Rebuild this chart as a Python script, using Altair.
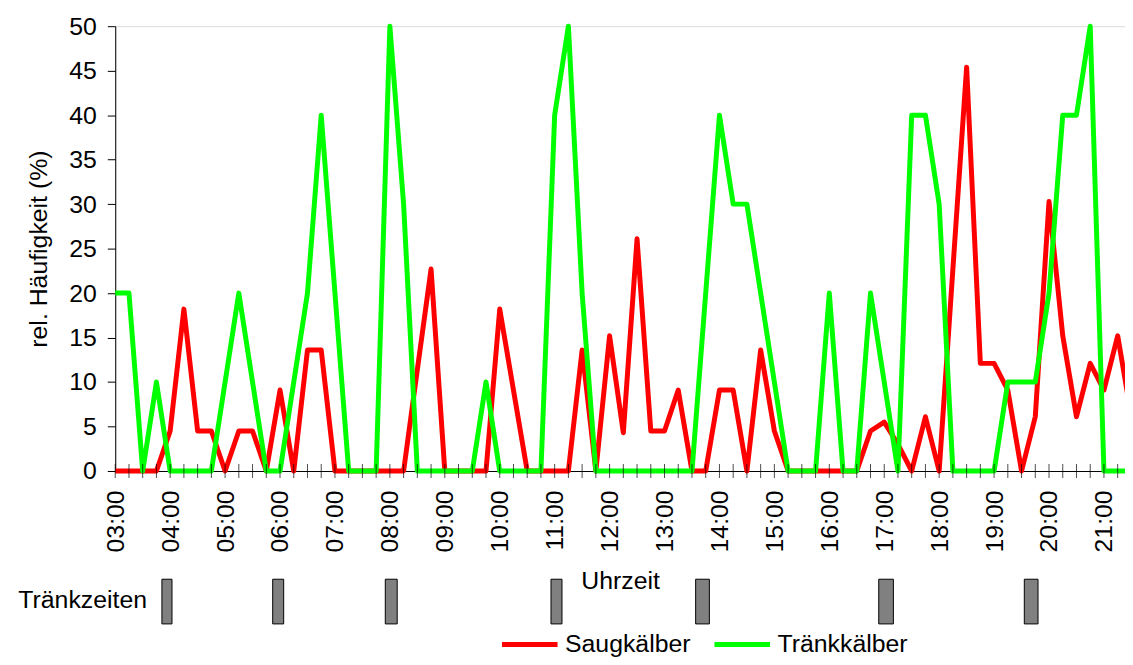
import altair as alt
import pandas as pd

# Zeitraster (Viertelstunden)
time_labels = [
    "03:00", "03:15", "03:30", "03:45", "04:00", "04:15", "04:30", "04:45",
    "05:00", "05:15", "05:30", "05:45", "06:00", "06:15", "06:30", "06:45",
    "07:00", "07:15", "07:30", "07:45", "08:00", "08:15", "08:30", "08:45",
    "09:00", "09:15", "09:30", "09:45", "10:00", "10:15", "10:30", "10:45",
    "11:00", "11:15", "11:30", "11:45", "12:00", "12:15", "12:30", "12:45",
    "13:00", "13:15", "13:30", "13:45", "14:00", "14:15", "14:30", "14:45",
    "15:00", "15:15", "15:30", "15:45", "16:00", "16:15", "16:30", "16:45",
    "17:00", "17:15", "17:30", "17:45", "18:00", "18:15", "18:30", "18:45",
    "19:00", "19:15", "19:30", "19:45", "20:00", "20:15", "20:30", "20:45",
    "21:00", "21:15", "21:30",
]

saugkaelber = [
    0, 0, 0, 0, 4.5, 18.2, 4.5, 4.5,
    0, 4.5, 4.5, 0, 9.1, 0, 13.6, 13.6,
    0, 0, 0, 0, 0, 0, 11.4, 22.7,
    0, 0, 0, 0, 18.2, 9.1, 0, 0,
    0, 0, 13.6, 0, 15.2, 4.3, 26.1, 4.5,
    4.5, 9.1, 0, 0, 9.1, 9.1, 0, 13.6,
    4.5, 0, 0, 0, 0, 0, 0, 4.5,
    5.5, 3.0, 0, 6.1, 0, 22.7, 45.4, 12.1,
    12.1, 9.1, 0, 6.1, 30.3, 15.2, 6.1, 12.1,
    9.1, 15.2, 6.1,
]

traenkkaelber = [
    20, 20, 0, 10, 0, 0, 0, 0,
    10, 20, 10, 0, 0, 10, 20, 40,
    20, 0, 0, 0, 50, 30, 0, 0,
    0, 0, 0, 10, 0, 0, 0, 0,
    40, 50, 20, 0, 0, 0, 0, 0,
    0, 0, 0, 20, 40, 30, 30, 20,
    10, 0, 0, 0, 20, 0, 0, 20,
    10, 0, 40, 40, 30, 0, 0, 0,
    0, 10, 10, 10, 20, 40, 40, 50,
    0, 0, 0,
]

series_names = ["Saugkälber", "Tränkkälber"]
series_colors = ["#FF0000", "#00FF00"]

hour_labels = [
    "03:00", "04:00", "05:00", "06:00", "07:00", "08:00", "09:00", "10:00",
    "11:00", "12:00", "13:00", "14:00", "15:00", "16:00", "17:00", "18:00",
    "19:00", "20:00", "21:00",
]

traenkzeiten_label = "Tränkzeiten"
traenkzeiten_start = ["03:51", "05:52", "07:55", "10:56", "13:34", "16:54", "19:33"]
traenkzeiten_ende = ["04:02", "06:04", "08:08", "11:08", "13:49", "17:10", "19:48"]

x_title = "Uhrzeit"
y_title = "rel. Häufigkeit (%)"

axis_start = "03:00"
axis_end = "21:23"


def to_ms(s):
    # Uhrzeit -> Zeitstempel (UTC, ms) an einem festen Tag
    return int(pd.Timestamp("2000-01-01T" + s + ":00", tz="UTC").value // 1_000_000)


t_ms = [to_ms(s) for s in time_labels]
t_end = to_ms(axis_end)

df_lines = pd.DataFrame({
    "t": t_ms + t_ms,
    "wert": saugkaelber + traenkkaelber,
    "Gruppe": [series_names[0]] * len(t_ms) + [series_names[1]] * len(t_ms),
})
df_ticks = pd.DataFrame({"t": [t for t in t_ms if t <= t_end]})
df_bars = pd.DataFrame({
    "t": [to_ms(s) for s in traenkzeiten_start],
    "ende": [to_ms(s) for s in traenkzeiten_ende],
})
df_text = pd.DataFrame({"label": [traenkzeiten_label]})

FONT = "Liberation Sans"
FS = 25

x_scale = alt.Scale(type="utc", domain=[to_ms(axis_start), t_end], nice=False)
y_scale = alt.Scale(domain=[0, 50], nice=False, zero=True)

x_axis = alt.Axis(
    values=[to_ms(s) for s in hour_labels],
    format="%H:%M",
    labelAngle=270,
    ticks=False,
    tickSize=0,
    labelPadding=19,
    labelOverlap=False,
    labelFontSize=FS,
    labelFont=FONT,
    labelColor="black",
    grid=False,
    domainColor="black",
    domainWidth=1,
    title=x_title,
    titleFontSize=FS,
    titleFont=FONT,
    titleFontWeight="normal",
    titleColor="black",
    titlePadding=17,
)

lines = alt.Chart(df_lines).mark_line(strokeWidth=5, strokeJoin="round").encode(
    x=alt.X("t:T", scale=x_scale, axis=x_axis),
    y=alt.Y(
        "wert:Q",
        scale=y_scale,
        axis=alt.Axis(
            values=list(range(0, 51, 5)),
            tickSize=8,
            tickColor="black",
            labelPadding=11,
            labelFontSize=FS,
            labelFont=FONT,
            labelColor="black",
            grid=False,
            domainColor="black",
            domainWidth=1,
            title=y_title,
            titleFontSize=FS,
            titleFont=FONT,
            titleFontWeight="normal",
            titleColor="black",
            titlePadding=17,
        ),
    ),
    color=alt.Color(
        "Gruppe:N",
        scale=alt.Scale(domain=series_names, range=series_colors),
        legend=alt.Legend(
            orient="none",
            legendX=387,
            legendY=592,
            direction="horizontal",
            title=None,
            symbolType="stroke",
            symbolStrokeWidth=5,
            symbolSize=3136,
            labelFontSize=FS,
            labelFont=FONT,
            labelColor="black",
            labelOffset=5,
            columnPadding=13,
            padding=0,
        ),
    ),
)

ticks = alt.Chart(df_ticks).mark_tick(size=14, thickness=1, color="black").encode(
    x=alt.X("t:T", scale=x_scale, axis=x_axis),
    y=alt.value(448),
)

bars = alt.Chart(df_bars).mark_rect(fill="#808080", stroke="black", strokeWidth=1).encode(
    x=alt.X("t:T", scale=x_scale, axis=x_axis),
    x2="ende:T",
    y=alt.value(557),
    y2=alt.value(602),
)

text = alt.Chart(df_text).mark_text(
    align="right", baseline="middle", fontSize=FS, font=FONT, color="black"
).encode(
    text="label:N",
    x=alt.value(32),
    y=alt.value(578),
)

chart = alt.layer(lines, ticks, bars, text).properties(
    width=1017,
    height=448,
    autosize=alt.AutoSizeParams(type="none"),
    padding={"left": 108, "top": 16, "right": 0, "bottom": 185},
).configure_view(
    fill="#C0C0C0",
    strokeWidth=0,
).configure(
    font=FONT,
    background="white",
)

chart.save("out.html", embed_options={"renderer": "svg", "actions": False})
